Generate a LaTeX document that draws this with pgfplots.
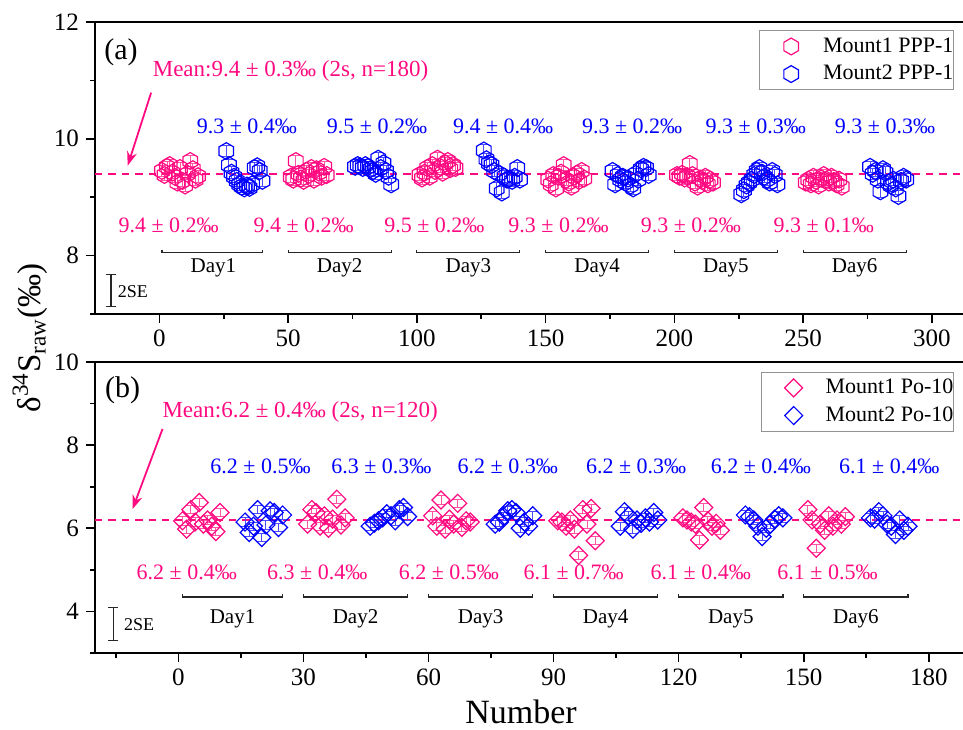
\documentclass[border=0pt]{standalone}
\usepackage{fontspec}
\setmainfont{Liberation Serif}
\usepackage{pgfplots}
\pgfplotsset{compat=1.18}
\usetikzlibrary{arrows.meta}
\definecolor{mpink}{RGB}{255,10,128}
\definecolor{mblue}{RGB}{0,0,255}
\newcommand{\fs}[1]{\fontsize{#1}{#1}\selectfont}
\pgfdeclareplotmark{hexa}{%
  \pgfpathmoveto{\pgfpointpolar{90}{\pgfplotmarksize}}%
  \pgfpathlineto{\pgfpointpolar{150}{\pgfplotmarksize}}%
  \pgfpathlineto{\pgfpointpolar{210}{\pgfplotmarksize}}%
  \pgfpathlineto{\pgfpointpolar{270}{\pgfplotmarksize}}%
  \pgfpathlineto{\pgfpointpolar{330}{\pgfplotmarksize}}%
  \pgfpathlineto{\pgfpointpolar{30}{\pgfplotmarksize}}%
  \pgfpathclose\pgfusepathqstroke}
\pgfdeclareplotmark{sqdia}{%
  \pgfpathmoveto{\pgfqpoint{0pt}{\pgfplotmarksize}}%
  \pgfpathlineto{\pgfqpoint{\pgfplotmarksize}{0pt}}%
  \pgfpathlineto{\pgfqpoint{0pt}{-\pgfplotmarksize}}%
  \pgfpathlineto{\pgfqpoint{-\pgfplotmarksize}{0pt}}%
  \pgfpathclose\pgfusepathqstroke}
\tikzset{
  lblb/.style={font=\fs{11}, text=mblue},
  lblp/.style={font=\fs{11}, text=mpink},
  dayl/.style={font=\fs{10.5}},
  brk/.style={black!85, line width=0.6pt},
}
\pgfplotsset{
  panel/.style={
    scale only axis, width=437.75pt,
    axis line style={line width=0.9pt},
    tick style={black, line width=0.8pt},
    major tick length=4.5pt, minor tick length=2.5pt,
    tick align=outside, xtick pos=left, ytick pos=left,
    /pgf/number format/assume math mode=true,
    tick label style={font=\fs{12.5}},
    clip=false,
    legend style={draw=gray!85, line width=0.5pt, inner xsep=0pt, inner ysep=1pt,
      font=\fs{11}, row sep=0pt, nodes={inner sep=0pt}, cells={anchor=west}},
    legend image code/.code={\path[draw=none, fill=none] (0pt,-6.9pt) rectangle (32pt,6.9pt); \draw[#1] plot coordinates {(16pt,0pt)};},
  },
  errs/.style={error bars/.cd, y dir=both, y fixed=0.1,
    error bar style={line width=0.45pt, #1!70},
    error mark options={rotate=90, mark size=2.2pt, line width=0.45pt, #1!70}},
  hexp/.style={only marks, mark=hexa, mark size=4.2pt, color=#1, mark options={line width=0.6pt, fill=none}, forget plot, errs=#1},
  diap/.style={only marks, mark=sqdia, mark size=4.5pt, color=#1, mark options={line width=0.6pt, fill=none}, forget plot, errs=#1},
}
\begin{document}
\begin{tikzpicture}
\path[use as bounding box] (-47.5pt,-207.5pt) rectangle (434pt,157pt);
% ---------------- panel (a)
\begin{axis}[panel, height=146pt, xmin=-25, xmax=315, ymin=7, ymax=12,
  xtick={0,50,...,300}, minor xtick={25,75,...,275},
  ytick={8,10,12}, minor ytick={7,9,11},
  legend style={at={(0.981,0.972)}, anchor=north east}]
\addplot[mpink, line width=1.2pt, dash pattern=on 3.7pt off 3pt, forget plot] coordinates {(-25,9.4) (315,9.4)};
\addplot[hexp=mpink] coordinates {
(1,9.45)(2,9.38)(3,9.52)(4,9.55)(5,9.42)(6,9.35)(7,9.25)(8,9.50)(9,9.28)(10,9.20)(11,9.40)(12,9.62)(13,9.48)(14,9.30)(15,9.36)
(51,9.35)(52,9.30)(53,9.62)(54,9.40)(55,9.32)(56,9.28)(57,9.45)(58,9.38)(59,9.50)(60,9.30)(61,9.48)(62,9.42)(63,9.35)(64,9.52)(65,9.38)
(101,9.38)(102,9.32)(103,9.42)(104,9.50)(105,9.35)(106,9.55)(107,9.45)(108,9.66)(109,9.52)(110,9.42)(111,9.58)(112,9.62)(113,9.48)(114,9.55)(115,9.50)
(151,9.30)(152,9.22)(153,9.38)(154,9.15)(155,9.35)(156,9.42)(157,9.55)(158,9.30)(159,9.25)(160,9.18)(161,9.35)(162,9.40)(163,9.28)(164,9.45)(165,9.32)
(201,9.38)(202,9.35)(203,9.40)(204,9.32)(205,9.36)(206,9.57)(207,9.38)(208,9.25)(209,9.18)(210,9.32)(211,9.28)(212,9.35)(213,9.22)(214,9.30)(215,9.25)
(251,9.25)(252,9.30)(253,9.22)(254,9.35)(255,9.28)(256,9.20)(257,9.32)(258,9.38)(259,9.30)(260,9.25)(261,9.35)(262,9.28)(263,9.22)(264,9.30)(265,9.18)
};
\addplot[hexp=mblue] coordinates {
(26,9.79)(27,9.55)(28,9.42)(29,9.35)(30,9.28)(31,9.22)(32,9.18)(33,9.15)(34,9.20)(35,9.16)(36,9.22)(37,9.50)(38,9.53)(39,9.45)(40,9.28)
(76,9.52)(77,9.55)(78,9.53)(79,9.50)(80,9.55)(81,9.52)(82,9.48)(83,9.45)(84,9.40)(85,9.66)(86,9.50)(87,9.58)(88,9.45)(89,9.35)(90,9.22)
(126,9.80)(127,9.65)(128,9.58)(129,9.55)(130,9.45)(131,9.15)(132,9.40)(133,9.08)(134,9.35)(135,9.30)(136,9.32)(137,9.28)(138,9.35)(139,9.50)(140,9.30)
(176,9.45)(177,9.22)(178,9.38)(179,9.30)(180,9.35)(181,9.25)(182,9.32)(183,9.20)(184,9.15)(185,9.40)(186,9.30)(187,9.48)(188,9.52)(189,9.50)(190,9.38)
(226,9.05)(227,9.12)(228,9.20)(229,9.25)(230,9.30)(231,9.38)(232,9.45)(233,9.50)(234,9.42)(235,9.35)(236,9.30)(237,9.25)(238,9.45)(239,9.38)(240,9.22)
(276,9.52)(277,9.40)(278,9.45)(279,9.30)(280,9.10)(281,9.48)(282,9.42)(283,9.25)(284,9.20)(285,9.30)(286,9.15)(287,9.02)(288,9.28)(289,9.35)(290,9.30)
};
\addlegendimage{mark=hexa, mark size=4.2pt, mpink, mark options={line width=0.6pt}}
\addlegendentry{Mount1 PPP-1\hspace{3pt}}
\addlegendimage{mark=hexa, mark size=4.2pt, mblue, mark options={line width=0.6pt}}
\addlegendentry{Mount2 PPP-1\hspace{3pt}}
\node[font=\fs{15}] at (axis cs:-14.9,11.48) {(a)};
\node[font=\fs{11.5}, text=mpink, anchor=west, inner sep=0pt] at (axis cs:-2.7,11.17) {Mean:9.4 ± 0.3‰ (2s, n=180)};
\draw[mpink, line width=0.9pt, -{Stealth[length=7pt, width=5pt]}] (axis cs:-3.2,10.79) -- (axis cs:-12.3,9.54);
\node[lblb] at (axis cs:34,10.22) {9.3 ± 0.4‰};
\node[lblb] at (axis cs:84.5,10.22) {9.5 ± 0.2‰};
\node[lblb] at (axis cs:133.5,10.22) {9.4 ± 0.4‰};
\node[lblb] at (axis cs:183.6,10.22) {9.3 ± 0.2‰};
\node[lblb] at (axis cs:231.6,10.22) {9.3 ± 0.3‰};
\node[lblb] at (axis cs:281.8,10.22) {9.3 ± 0.3‰};
\node[lblp] at (axis cs:3.6,8.51) {9.4 ± 0.2‰};
\node[lblp] at (axis cs:56,8.51) {9.4 ± 0.2‰};
\node[lblp] at (axis cs:106.8,8.51) {9.5 ± 0.2‰};
\node[lblp] at (axis cs:155,8.51) {9.3 ± 0.2‰};
\node[lblp] at (axis cs:206.4,8.51) {9.3 ± 0.2‰};
\node[lblp] at (axis cs:258,8.51) {9.3 ± 0.1‰};
\draw[brk] (axis cs:1,8.10) -- (axis cs:1,8.05) -- (axis cs:40,8.05) -- (axis cs:40,8.10);
\draw[brk] (axis cs:50,8.10) -- (axis cs:50,8.05) -- (axis cs:90,8.05) -- (axis cs:90,8.10);
\draw[brk] (axis cs:100,8.10) -- (axis cs:100,8.05) -- (axis cs:140,8.05) -- (axis cs:140,8.10);
\draw[brk] (axis cs:150,8.10) -- (axis cs:150,8.05) -- (axis cs:190,8.05) -- (axis cs:190,8.10);
\draw[brk] (axis cs:200,8.10) -- (axis cs:200,8.05) -- (axis cs:240,8.05) -- (axis cs:240,8.10);
\draw[brk] (axis cs:250,8.10) -- (axis cs:250,8.05) -- (axis cs:290,8.05) -- (axis cs:290,8.10);
\node[dayl] at (axis cs:21,7.79) {Day1};
\node[dayl] at (axis cs:70,7.79) {Day2};
\node[dayl] at (axis cs:120,7.79) {Day3};
\node[dayl] at (axis cs:170,7.79) {Day4};
\node[dayl] at (axis cs:220,7.79) {Day5};
\node[dayl] at (axis cs:270,7.79) {Day6};
\draw[brk, {Bar[width=5pt]}-{Bar[width=5pt]}] (axis cs:-18.8,7.116) -- (axis cs:-18.8,7.69);
\node[font=\fs{9}, anchor=west, inner sep=0pt] at (axis cs:-16.3,7.39) {2SE};
\end{axis}
% ---------------- panel (b)
\begin{axis}[panel, at={(0pt,-169.5pt)}, height=145.5pt, xmin=-20, xmax=190, ymin=3, ymax=10,
  xtick={0,30,...,180}, minor xtick={-15,15,45,...,165},
  ytick={4,6,8,10}, minor ytick={3,5,7,9},
  legend style={at={(0.981,0.967)}, anchor=north east}]
\addplot[mpink, line width=1.2pt, dash pattern=on 3.7pt off 3pt, forget plot] coordinates {(-20,6.2) (190,6.2)};
\addplot[diap=mpink] coordinates {
(1,6.18)(2,5.98)(3,6.45)(4,6.15)(5,6.62)(6,6.10)(7,6.20)(8,6.05)(9,5.92)(10,6.38)
(31,6.10)(32,6.45)(33,6.38)(34,6.05)(35,6.30)(36,6.00)(37,6.22)(38,6.70)(39,6.08)(40,6.25)
(61,6.30)(62,6.05)(63,6.68)(64,5.98)(65,6.22)(66,6.10)(67,6.60)(68,6.02)(69,6.18)(70,6.15)
(91,6.18)(92,6.15)(93,6.05)(94,6.20)(95,5.98)(96,5.35)(97,6.45)(98,6.10)(99,6.48)(100,5.70)
(121,6.25)(122,6.20)(123,6.15)(124,6.10)(125,5.72)(126,6.50)(127,6.18)(128,6.05)(129,6.12)(130,5.95)
(151,6.45)(152,6.20)(153,5.52)(154,6.10)(155,5.95)(156,6.30)(157,6.05)(158,6.20)(159,6.10)(160,6.28)
};
\addplot[diap=mblue] coordinates {
(16,6.15)(17,5.90)(18,6.05)(19,6.45)(20,5.78)(21,6.08)(22,6.42)(23,6.38)(24,6.02)(25,6.32)
(46,6.05)(47,6.12)(48,6.18)(49,6.25)(50,6.35)(51,6.30)(52,6.18)(53,6.45)(54,6.50)(55,6.28)
(76,6.10)(77,6.15)(78,6.28)(79,6.42)(80,6.45)(81,6.38)(82,6.00)(83,6.15)(84,6.05)(85,6.30)
(106,6.05)(107,6.40)(108,6.30)(109,5.98)(110,6.20)(111,6.12)(112,6.25)(113,6.15)(114,6.38)(115,6.20)
(136,6.32)(137,6.28)(138,6.20)(139,6.05)(140,5.80)(141,6.00)(142,6.10)(143,6.22)(144,6.30)(145,6.25)
(166,6.25)(167,6.22)(168,6.40)(169,6.30)(170,6.10)(171,6.05)(172,5.85)(173,6.20)(174,5.95)(175,6.05)
};
\addlegendimage{mark=sqdia, mark size=4.5pt, mpink, mark options={line width=0.6pt}}
\addlegendentry{Mount1 Po-10\hspace{3pt}}
\addlegendimage{mark=sqdia, mark size=4.5pt, mblue, mark options={line width=0.6pt}}
\addlegendentry{Mount2 Po-10\hspace{3pt}}
\node[font=\fs{15}] at (axis cs:-13.4,9.31) {(b)};
\node[font=\fs{11.5}, text=mpink, anchor=west, inner sep=0pt] at (axis cs:-3.9,8.80) {Mean:6.2 ± 0.4‰ (2s, n=120)};
\draw[mpink, line width=0.9pt, -{Stealth[length=7pt, width=5pt]}] (axis cs:-3.8,8.39) -- (axis cs:-11,6.46);
\node[lblb] at (axis cs:19.7,7.50) {6.2 ± 0.5‰};
\node[lblb] at (axis cs:48.7,7.50) {6.3 ± 0.3‰};
\node[lblb] at (axis cs:79,7.50) {6.2 ± 0.3‰};
\node[lblb] at (axis cs:109.8,7.50) {6.2 ± 0.3‰};
\node[lblb] at (axis cs:139.7,7.50) {6.2 ± 0.4‰};
\node[lblb] at (axis cs:170.5,7.50) {6.1 ± 0.4‰};
\node[lblp] at (axis cs:2,4.93) {6.2 ± 0.4‰};
\node[lblp] at (axis cs:33.3,4.93) {6.3 ± 0.4‰};
\node[lblp] at (axis cs:64.9,4.93) {6.2 ± 0.5‰};
\node[lblp] at (axis cs:94.8,4.93) {6.1 ± 0.7‰};
\node[lblp] at (axis cs:125.3,4.93) {6.1 ± 0.4‰};
\node[lblp] at (axis cs:155.7,4.93) {6.1 ± 0.5‰};
\draw[brk] (axis cs:1,4.42) -- (axis cs:1,4.345) -- (axis cs:25,4.345) -- (axis cs:25,4.42);
\draw[brk] (axis cs:30,4.42) -- (axis cs:30,4.345) -- (axis cs:55,4.345) -- (axis cs:55,4.42);
\draw[brk] (axis cs:60,4.42) -- (axis cs:60,4.345) -- (axis cs:85,4.345) -- (axis cs:85,4.42);
\draw[brk] (axis cs:90,4.42) -- (axis cs:90,4.345) -- (axis cs:115,4.345) -- (axis cs:115,4.42);
\draw[brk] (axis cs:120,4.42) -- (axis cs:120,4.345) -- (axis cs:145,4.345) -- (axis cs:145,4.42);
\draw[brk] (axis cs:150,4.42) -- (axis cs:150,4.345) -- (axis cs:175,4.345) -- (axis cs:175,4.42);
\node[dayl] at (axis cs:13,3.82) {Day1};
\node[dayl] at (axis cs:42.5,3.82) {Day2};
\node[dayl] at (axis cs:72.5,3.82) {Day3};
\node[dayl] at (axis cs:102.5,3.82) {Day4};
\node[dayl] at (axis cs:132.5,3.82) {Day5};
\node[dayl] at (axis cs:162.5,3.82) {Day6};
\draw[brk, {Bar[width=5pt]}-{Bar[width=5pt]}] (axis cs:-15.6,3.28) -- (axis cs:-15.6,4.10);
\node[font=\fs{9}, anchor=west, inner sep=0pt] at (axis cs:-13.1,3.69) {2SE};
\end{axis}
\node[font=\fs{16.5}, rotate=90] at (-32.5pt,-12pt) {δ\textsuperscript{34}S\textsubscript{raw}(‰)};
\node[font=\fs{17}] at (213pt,-199pt) {Number};
\end{tikzpicture}
\end{document}
